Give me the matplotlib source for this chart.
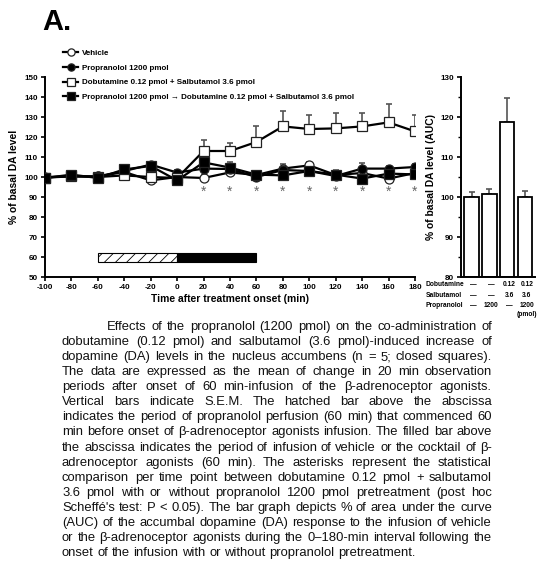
import matplotlib
matplotlib.use("Agg")
import matplotlib.pyplot as plt
from matplotlib.ticker import MultipleLocator

plt.rcParams["font.family"] = ["Liberation Sans", "DejaVu Sans"]
plt.rcParams["hatch.linewidth"] = 0.6
plt.rcParams["axes.unicode_minus"] = False

# time course data (% of basal DA)
times = [-100, -80, -60, -40, -20, 0, 20, 40, 60, 80, 100, 120, 140, 160, 180]
vehicle = [100, 100.3, 100.3, 102.5, 98.3, 100, 99.5, 102.3, 101, 104.2, 105.8, 101, 102, 99.2, 102]
vehicle_sem = [0.8, 0.8, 1, 1.5, 1.2, 1.2, 1.5, 2, 1.5, 2.5, 1.5, 1.5, 1.5, 1.5, 1.5]
prop = [99.7, 100.3, 100.3, 103, 106.2, 102.2, 104.2, 104, 100, 103.5, 103, 100.5, 104.2, 104.2, 105]
prop_sem = [0.8, 1, 1, 1.5, 1.2, 1.2, 1.5, 1.5, 1.2, 1.5, 1.5, 1.5, 3, 1.5, 1.5]
dob_salb = [99.7, 100.5, 100, 100.8, 100, 99.5, 113, 113, 117.5, 125.3, 124, 124.3, 125.3, 127.3, 122.8]
dob_salb_sem = [0.8, 1, 1, 1, 1, 1, 5.3, 4, 8.2, 7.5, 6.8, 7.7, 6.7, 9, 8]
prop_dob = [99.5, 101.2, 99.5, 103.8, 105.5, 98.3, 107.3, 104.7, 101.2, 100.8, 103, 101.2, 99.2, 101.7, 101.3]
prop_dob_sem = [0.8, 1, 1, 1, 1, 1, 2, 3, 1.5, 1.5, 1.5, 2.5, 1.5, 1.5, 1.5]
star_times = [20, 40, 60, 80, 100, 120, 140, 160, 180]

# AUC bar data
auc = [100, 100.7, 118.75, 100]
auc_sem = [1.2, 1.2, 6, 1.5]
dobutamine_row = ["\u2014", "\u2014", "0.12", "0.12"]
salbutamol_row = ["\u2014", "\u2014", "3.6", "3.6"]
propranolol_row = ["\u2014", "1200", "\u2014", "1200"]

caption_lines = [
    "Effects of the propranolol (1200 pmol) on the co-administration of",
    "dobutamine (0.12 pmol) and salbutamol (3.6 pmol)-induced increase of",
    "dopamine (DA) levels in the nucleus accumbens (n = 5; closed squares).",
    "The data are expressed as the mean of change in 20 min observation",
    "periods after onset of 60 min-infusion of the \u03b2-adrenoceptor agonists.",
    "Vertical bars indicate S.E.M. The hatched bar above the abscissa",
    "indicates the period of propranolol perfusion (60 min) that commenced 60",
    "min before onset of \u03b2-adrenoceptor agonists infusion. The filled bar above",
    "the abscissa indicates the period of infusion of vehicle or the cocktail of \u03b2-",
    "adrenoceptor agonists (60 min). The asterisks represent the statistical",
    "comparison per time point between dobutamine 0.12 pmol + salbutamol",
    "3.6 pmol with or without propranolol 1200 pmol pretreatment (post hoc",
    "Scheff\u00e9's test: P < 0.05). The bar graph depicts % of area under the curve",
    "(AUC) of the accumbal dopamine (DA) response to the infusion of vehicle",
    "or the \u03b2-adrenoceptor agonists during the 0\u2013180-min interval following the",
    "onset of the infusion with or without propranolol pretreatment.",
]

W, H = 538, 580
fig = plt.figure(figsize=(W / 100, H / 100), dpi=100)


def fx(px):
    return px / W


def fy(py):
    return 1 - py / H


# ---- time course panel ----
ax = fig.add_axes([fx(45), fy(277), fx(415) - fx(45), fy(77) - fy(277)])
series = [
    (vehicle, vehicle_sem, "o", "white", "Vehicle"),
    (prop, prop_sem, "o", "black", "Propranolol 1200 pmol"),
    (dob_salb, dob_salb_sem, "s", "white", "Dobutamine 0.12 pmol + Salbutamol 3.6 pmol"),
    (prop_dob, prop_dob_sem, "s", "black",
     "Propranolol 1200 pmol \u2192 Dobutamine 0.12 pmol + Salbutamol 3.6 pmol"),
]
for i, (vals, sem, mk, fc, lab) in enumerate(series):
    ax.errorbar(times, vals, yerr=[[0] * len(sem), sem], fmt="none",
                ecolor="#555555", elinewidth=1.2, capsize=2, capthick=1.2, zorder=2 + i)
    ax.plot(times, vals, marker=mk, ms=6.5, mfc=fc, mec="#222222", mew=0.9,
            color="black", lw=1.6, label=lab, zorder=3 + i)

for t in star_times:
    ax.text(t, 92.5, "*", ha="center", va="center", fontsize=10, color="#666666")

ax.barh(59.75, 60, left=-60, height=4.5, color="white", edgecolor="black",
        hatch="///", lw=0.8, zorder=2)
ax.barh(59.75, 60, left=0, height=4.5, color="black", edgecolor="black", lw=0.8, zorder=2)

ax.set_xlim(-100, 180)
ax.set_ylim(50, 150)
ax.set_xticks(range(-100, 181, 20))
ax.set_yticks(range(50, 151, 10))
for s in ["top", "right"]:
    ax.spines[s].set_visible(False)
for s in ["left", "bottom"]:
    ax.spines[s].set_linewidth(1.4)
ax.tick_params(direction="out", length=3, width=1.2, labelsize=5.8, pad=2)
for lbl in ax.get_xticklabels() + ax.get_yticklabels():
    lbl.set_fontweight("bold")
ax.set_xlabel("Time after treatment onset (min)", fontsize=7.4, fontweight="bold", labelpad=2)
ax.set_ylabel("% of basal DA level", fontsize=7.4, fontweight="bold", labelpad=4)

ax.legend(loc="upper left", bbox_to_anchor=(fx(63), fy(49)), bbox_transform=fig.transFigure,
          frameon=False, prop={"size": 5.8, "weight": "bold"}, handlelength=1.9,
          handletextpad=0.4, labelspacing=0.9, borderpad=0, borderaxespad=0, markerscale=0.8)

# ---- AUC bar panel ----
bx = fig.add_axes([fx(461), fy(277), fx(535) - fx(461), fy(77) - fy(277)])
pos = list(range(len(auc)))
bx.bar(pos, [a - 80 for a in auc], bottom=80, width=0.82, color="white",
       edgecolor="black", lw=1.3, zorder=2)
bx.errorbar(pos, auc, yerr=[[0] * len(auc_sem), auc_sem], fmt="none", ecolor="#555555",
            elinewidth=1.2, capsize=2, capthick=1.2, zorder=1)
bx.set_xlim(-0.59, 3.56)
bx.set_ylim(80, 130)
bx.set_xticks([])
bx.yaxis.set_major_locator(MultipleLocator(10))
bx.yaxis.set_minor_locator(MultipleLocator(5))
for s in ["top", "right"]:
    bx.spines[s].set_visible(False)
for s in ["left", "bottom"]:
    bx.spines[s].set_linewidth(1.4)
bx.tick_params(axis="y", which="major", direction="out", length=3, width=1.2, labelsize=5.8, pad=2)
bx.tick_params(axis="y", which="minor", direction="out", length=2, width=1.0)
for lbl in bx.get_yticklabels():
    lbl.set_fontweight("bold")
bx.set_ylabel("% of basal DA level (AUC)", fontsize=7.4, fontweight="bold", labelpad=3)

row_y = [285, 295.5, 305.5]
row_names = ["Dobutamine", "Salbutamol", "Propranolol"]
for name, yy, row in zip(row_names, row_y, [dobutamine_row, salbutamol_row, propranolol_row]):
    fig.text(fx(426), fy(yy), name, ha="left", va="center", fontsize=4.8, fontweight="bold")
    for p, v in zip(pos, row):
        xdisp = bx.transData.transform((p, 80))[0] + 2
        fig.text(xdisp / W, fy(yy), v, ha="center", va="center", fontsize=4.8, fontweight="bold")
fig.text((bx.transData.transform((3, 80))[0] + 2) / W, fy(314), "(pmol)", ha="center",
         va="center", fontsize=4.8, fontweight="bold")

fig.text(fx(42), fy(22), "A.", ha="left", va="center", fontsize=21, fontweight="bold")

# ---- justified caption ----
renderer = fig.canvas.get_renderer()
left_px, right_px, indent_px = 62, 492, 107


def text_width(s, size):
    t = fig.text(0, 0, s, fontsize=size)
    w = t.get_window_extent(renderer).width
    t.remove()
    return w


for i, line in enumerate(caption_lines):
    y = fy(327 + i * 15.07)
    x0 = indent_px if i == 0 else left_px
    words = line.split(" ")
    size = 9.4
    while True:
        widths = [text_width(w, size) for w in words]
        gap = (right_px - x0 - sum(widths)) / max(len(words) - 1, 1)
        if gap >= 2.2 or size < 7:
            break
        size -= 0.1
    if i == len(caption_lines) - 1:
        gap = text_width("a a", size) - text_width("aa", size)
    x = x0
    for w, wd in zip(words, widths):
        fig.text(fx(x), y, w, fontsize=size, va="center", ha="left", color="#111111")
        x += wd + gap

fig.savefig("out.png", dpi=100)
